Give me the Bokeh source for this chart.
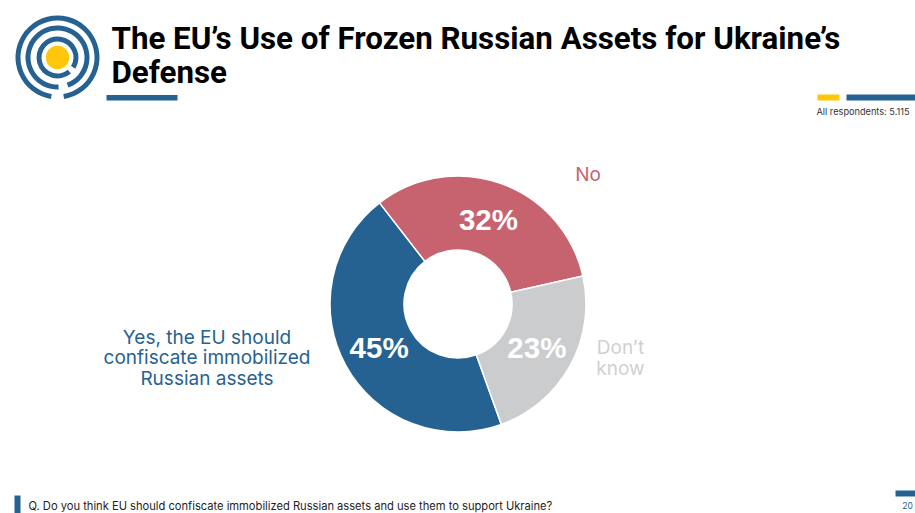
import numpy as np
from bokeh.core.properties import value
from bokeh.models import ColumnDataSource, Range1d
from bokeh.plotting import figure
from bokeh.embed import file_html
from bokeh.resources import INLINE

# ---- data ----
categories = ["Yes, the EU should confiscate immobilized Russian assets", "No", "Don't know"]
shares = [45, 32, 23]
share_labels = ["45%", "32%", "23%"]
colors = ["#266291", "#C7636F", "#CBCCCE"]
title_lines = ["The EU\u2019s Use of Frozen Russian Assets for Ukraine\u2019s", "Defense"]
yes_lines = ["Yes, the EU should", "confiscate immobilized", "Russian assets"]
dk_lines = ["Don\u2019t", "know"]
respondents = "All respondents: 5.115"
question = "Q. Do you think EU should confiscate immobilized Russian assets and use them to support Ukraine?"
page_number = "20"

BLUE, YELLOW = "#266291", "#FFC60A"
LABEL_FONT = value("Inter")
W, H = 915, 513


def Y(y):
    return H - y


p = figure(width=W, height=H, output_backend="svg", toolbar_location=None,
           x_range=Range1d(0, W), y_range=Range1d(0, H),
           min_border=0, outline_line_color=None, background_fill_color="white")
p.axis.visible = False
p.grid.visible = False

# ---- donut ----
cx, cy, r_out, r_in = 457.5, 303.5, 128, 54
start_clock = 160.2
vals = np.array(shares, dtype=float)
edges = start_clock + np.concatenate([[0], np.cumsum(vals)]) / vals.sum() * 360
src = ColumnDataSource(dict(
    x=[cx] * 3, y=[Y(cy)] * 3,
    start=np.radians(90 - edges[:-1]), end=np.radians(90 - edges[1:]),
    color=colors, name=categories))
p.annular_wedge("x", "y", inner_radius=r_in, outer_radius=r_out, start_angle="start", end_angle="end",
                direction="clock", fill_color="color", line_color="white", line_width=1.5, source=src)

mid = np.radians(90 - (edges[:-1] + edges[1:]) / 2)
p.text(cx + 90 * np.cos(mid), Y(cy) + 90 * np.sin(mid), text=share_labels, text_color="white",
       text_font=value("Liberation Sans"), text_font_style="bold", text_font_size="29.5px",
       text_align="center", text_baseline="middle")

# ---- category labels ----
p.text([206.5, 206.5, 206.5], [Y(337), Y(357), Y(378)], text=yes_lines, text_color=BLUE, text_font=LABEL_FONT,
       text_font_size="19px", text_align="center", text_baseline="middle")
p.text([587.5], [Y(174)], text=["No"], text_color="#C7636F", text_font=LABEL_FONT,
       text_font_size="19px", text_align="center", text_baseline="middle")
p.text([620, 620], [Y(347), Y(368)], text=dk_lines, text_color="#CFD0D2", text_font=LABEL_FONT,
       text_font_size="19px", text_align="center", text_baseline="middle")

# ---- title ----
p.text([111, 111], [Y(37.5), Y(71.5)], text=title_lines, text_color="black", text_font=value("Roboto"),
       text_font_style="bold", text_font_size="31.3px", text_align="left", text_baseline="middle")

# ---- decoration bars ----
bars = [(106, 177, 94.5, 100, BLUE), (817, 839, 94, 100, YELLOW), (846, 915, 94, 100, BLUE),
        (14, 20, 495, 513, BLUE), (895, 915, 490, 496, BLUE)]
p.quad(left=[b[0] for b in bars], right=[b[1] for b in bars], top=[Y(b[2]) for b in bars],
       bottom=[Y(b[3]) for b in bars], fill_color=[b[4] for b in bars], line_color=None)

# ---- small texts ----
p.text([816], [Y(111)], text=[respondents], text_color="#333333", text_font=LABEL_FONT, text_font_size="9.2px",
       text_align="left", text_baseline="middle")
p.text([28], [Y(505)], text=[question], text_color="#222222", text_font=LABEL_FONT, text_font_size="11.15px",
       text_align="left", text_baseline="middle")
p.text([907], [Y(505)], text=[page_number], text_color=BLUE, text_font=LABEL_FONT, text_font_size="8.5px",
       text_align="center", text_baseline="middle")

# ---- logo ----
lx, ly = 57, 57
arcs = [  # mid radius, half width, clockwise angles of the gap (from, to)
    (39.5, 2.5, 171, 189),
    (29.5, 2.5, 160, 178),
    (18.5, 2.5, 122, 140),
]
for rm, hw, g0, g1 in arcs:
    p.annular_wedge([lx], [Y(ly)], inner_radius=rm - hw, outer_radius=rm + hw,
                    start_angle=np.radians(90 - g1), end_angle=np.radians(90 - g0),
                    direction="clock", fill_color=BLUE, line_color=None)
p.circle([lx], [Y(ly)], radius=11.7, fill_color=YELLOW, line_color=None)

open("out.html", "w").write(file_html(p, INLINE))
